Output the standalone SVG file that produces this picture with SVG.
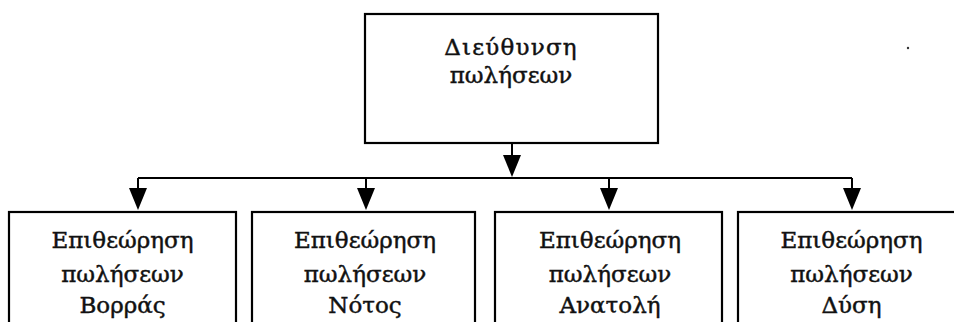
<svg xmlns="http://www.w3.org/2000/svg" width="954" height="322" viewBox="0 0 954 322">
<style>
.box{fill:#fff;stroke:#000;stroke-width:2.2}
.ln{fill:none;stroke:#000;stroke-width:2}
.ah{fill:#000}
.t{font-family:"DejaVu Serif","Liberation Serif",serif;font-size:23px;fill:#111;stroke:#111;stroke-width:0.45;text-anchor:middle}
.w{letter-spacing:1.2px}
</style>
<rect width="954" height="322" fill="#fff"/>
<g id="connectors">
<line class="ln" x1="512" y1="143" x2="512" y2="170"/>
<line class="ln" x1="138" y1="178" x2="852" y2="178"/>
<line class="ln" x1="138" y1="178" x2="138" y2="203"/>
<line class="ln" x1="366" y1="178" x2="366" y2="203"/>
<line class="ln" x1="609" y1="178" x2="609" y2="203"/>
<line class="ln" x1="852" y1="178" x2="852" y2="203"/>
<path class="ah" d="M503,155 L521,155 L512,177 Z"/>
<path class="ah" d="M129,188 L147,188 L138,210 Z"/>
<path class="ah" d="M357,188 L375,188 L366,210 Z"/>
<path class="ah" d="M600,188 L618,188 L609,210 Z"/>
<path class="ah" d="M843,188 L861,188 L852,210 Z"/>
</g>
<g id="node-top">
<rect class="box" x="365" y="14" width="293" height="129"/>
<text class="t w" x="511" y="55">Διεύθυνση</text>
<text class="t" x="511" y="83">πωλήσεων</text>
</g>
<g id="node-north">
<rect class="box" x="9" y="212" width="227" height="130"/>
<text class="t" x="122.5" y="248">Επιθεώρηση</text>
<text class="t" x="122.5" y="282">πωλήσεων</text>
<text class="t" x="122.5" y="313">Βορράς</text>
</g>
<g id="node-south">
<rect class="box" x="252" y="212" width="223" height="130"/>
<text class="t" x="365" y="248">Επιθεώρηση</text>
<text class="t" x="365" y="282">πωλήσεων</text>
<text class="t" x="365" y="313">Νότος</text>
</g>
<g id="node-east">
<rect class="box" x="495" y="212" width="227" height="130"/>
<text class="t" x="610" y="248">Επιθεώρηση</text>
<text class="t" x="610" y="282">πωλήσεων</text>
<text class="t" x="610" y="313">Ανατολή</text>
</g>
<g id="node-west">
<rect class="box" x="738" y="212" width="240" height="130"/>
<text class="t" x="851.5" y="248">Επιθεώρηση</text>
<text class="t" x="851.5" y="282">πωλήσεων</text>
<text class="t" x="851.5" y="313">Δύση</text>
</g>
<circle cx="908" cy="48" r="1.2" fill="#333"/>
</svg>
